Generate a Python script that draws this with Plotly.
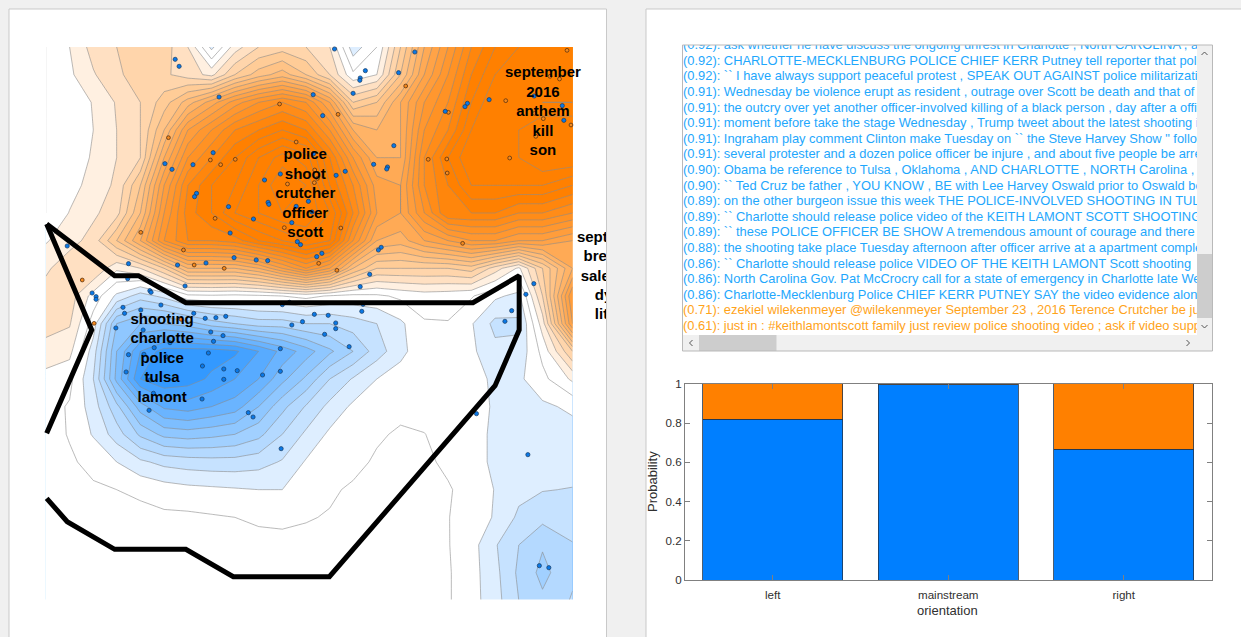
import plotly.graph_objects as go

W, H = 1241, 637
FONT = "Liberation Sans"

# ---------- map data (arbitrary map units) ----------
grid_x = [116,176,236,295,355,415,475,535,594,654,714,774,834,893,953,1013,1073,1133,1192,1252,1312,1372,1448]
grid_y = [141,224,307,390,473,556,639,722,805,888,971,1054,1137,1220,1303,1386,1469,1552,1635,1718,1801]
z_rows = [
 [0,1.0,2.4,3,4,3.5,2,-1.3,1.5,3,3.5,3,2,-1.6,0,4,8,11,14,16,17,18,18],
 [0,0.8,1.9,2.8,3.5,3.2,2.5,1.7,4,5.5,6.5,5,3,0.2,1,5,9,12,15,17,18,18,18],
 [0,0.5,1.05,2.1,3,4.5,6.5,8.5,10.5,12,13,12,9,4,5,8,11,13,16,18,18,17,17],
 [0,0.4,1,2,3,6,10,12,14,15,16,15,12,8,7,8,12,14,17,18,18,19,19],
 [0,0.5,1.1,2,3,8,12,14,16,18,19.5,18.5,15,11,8,8,13,16,18,18,18,19,19],
 [0,0.6,1.4,2.2,5,10,14,16,17,19,21,20,16,13,9.5,9,13,15,17,17,17,17,16],
 [0,1.05,1.8,2.6,6,11,14.5,16,18,19,20,20,18,14,10,9,12,15,15,15,14,14,13],
 [0.9,1.6,2.4,5,8,12,14,14,14.5,16,17,18,17,12,8,7.5,9,10,11,11,10,10,9],
 [1.8,2.7,3,1.2,2,4,7,7,7,8,10,12,10,6,4,4,4,4,4.5,2.5,0.8,4,8],
 [2.5,2.5,0.6,-1.2,-2.5,-1.7,-0.3,-0.2,-0.3,-0.2,0,0.3,-0.1,-0.3,-0.2,0.2,0.5,0.4,0.1,-0.8,-1.3,3,11],
 [2.5,2.1,-0.5,-5,-6,-6,-5.5,-4.5,-4,-3.5,-3.5,-3,-3,-2.5,-2,-1.2,-0.1,-0.05,-0.9,-2.3,-2.2,1.5,10],
 [1.5,1.3,-1.5,-6,-9,-10.5,-10.5,-10.5,-10.2,-9,-7.7,-6.5,-5.2,-4,-2.5,-1.3,-0.3,-0.3,-0.8,-1.7,-1.7,0.3,4],
 [0.7,0.3,-2,-6.3,-10,-10.9,-10.5,-9.8,-9,-8,-6.3,-4.8,-3,-1.9,-1,-0.5,-0.2,-0.2,-0.4,-1.3,-1.2,-0.3,1.2],
 [0.4,-0.1,-1.5,-3.7,-6.5,-8.2,-8.5,-8,-7.5,-6,-4.3,-2.9,-1.7,-0.8,-0.4,-0.2,-0.3,-0.3,-0.3,-1.2,-1.2,-1.2,-0.8],
 [0.3,-0.05,-1.1,-2.5,-4.2,-5.3,-5.5,-5.3,-5,-4.3,-3,-1.8,-0.8,-0.5,-0.1,0.1,0.02,-0.3,-0.6,-1.2,-1.3,-1.3,-1.4],
 [0.3,0.1,-0.2,-1,-1.8,-2.3,-2.5,-2.6,-2.6,-2.4,-1.9,-0.9,-0.5,-0.2,0.1,0.2,0.1,-0.1,-0.4,-1.3,-1.5,-1.5,-1.5],
 [0.3,0.2,0.1,0,-0.2,-0.5,-0.7,-0.8,-0.9,-1,-1,-0.4,-0.1,0.1,0.2,0.2,0.2,0.05,-0.2,-1.05,-1.7,-1.95,-2.05],
 [0.3,0.3,0.3,0.3,0.3,0.2,0.2,0.1,0,-0.1,-0.15,-0.05,0.05,0.1,0.2,0.2,0.2,0.03,-0.4,-1.1,-2.2,-2.7,-2.2],
 [0.3,0.3,0.3,0.3,0.3,0.3,0.3,0.3,0.2,0.2,0.2,0.2,0.2,0.2,0.2,0.2,0.2,0.05,-0.6,-1.9,-3,-3.9,-3.1],
 [0.3,0.3,0.3,0.3,0.3,0.3,0.3,0.3,0.2,0.2,0.2,0.2,0.2,0.2,0.2,0.2,0.2,0.1,-0.6,-1.7,-3.2,-4.3,-3.2],
 [0.3,0.3,0.3,0.3,0.3,0.3,0.3,0.3,0.2,0.2,0.2,0.2,0.2,0.2,0.2,0.2,0.2,0.1,-0.6,-1.6,-3,-3.8,-2.9],
]

blue_x = [846,1049,443,453,924,911,910,1008,893,792,554,1182,1176,1126,1237,1351,1422,1426,816,996,539,793,417,488,435,945,980,978,873,850,709,669,497,492,678,680,578,780,749,789,641,738,582,752,760,170,964,957,814,801,592,648,677,521,449,325,935,323,468,911,233,243,243,379,382,407,1350,1330,714,732,918,915,311,315,356,490,519,546,571,795,830,1294,
          1277,738,765,849,849,821,533,564,540,293,362,430,390,883,709,325,364,420,527,512,566,600,709,664,566,319,380,388,511,377,628,640,711,1205,1335,1364,1388]
blue_y = [147,156,178,199,212,234,241,218,280,284,291,310,320,334,299,288,317,361,347,437,458,461,491,494,508,493,501,507,514,526,522,540,580,590,607,613,620,604,619,636,657,668,699,725,734,738,742,750,760,770,773,780,782,789,795,791,823,836,858,860,879,890,898,872,877,915,851,883,914,907,913,934,922,940,930,940,955,953,949,943,946,932,
          964,975,965,969,986,1003,996,1007,1024,984,990,1028,1043,1040,1046,1064,1063,1070,1059,1098,1107,1112,1114,1125,1138,1116,1140,1180,1197,1231,1238,1251,1346,1241,1364,1697,1703]
orange_x = [1434,1391,1415,1026,1279,707,855,1134,1352,1374,1444,1355,426,749,532,558,595,1083,1130,1289,1131,796,803,795,727,544,356,719,862,464,1170,491,567,806,852,208,238,458]
orange_y = [151,229,237,258,302,312,343,337,340,356,375,409,413,426,480,494,478,478,477,474,519,510,535,548,552,655,697,683,684,750,730,795,805,790,811,840,970,958]

path1_x = [118,290,350,470,1196,1313,1313,1252,833,590,470,290,170,118]
path1_y = [672,827,827,908,908,827,990,1157,1730,1730,1648,1648,1565,1495]
path2_x = [118,232,118]
path2_y = [672,990,1300]

word_groups = [
    (772, [467,525,583,642,700], ["police","shoot","crutcher","officer","scott"]),
    (1373, [221,279,337,396,455], ["september","2016","anthem","kill","son"]),
    (410, [962,1019,1078,1136,1194], ["shooting","charlotte","police","tulsa","lamont"]),
    (1555, [715,773,831,889,947], ["september","breaking","salesman","dying","literal"]),
]

# ---------- sentence list ----------
sentences_blue = [
 "(0.92): ask whether he have discuss the ongoing unrest in Charlotte , North CAROLINA , and",
 "(0.92): CHARLOTTE-MECKLENBURG POLICE CHIEF KERR Putney tell reporter that police",
 "(0.92): `` I have always support peaceful protest , SPEAK OUT AGAINST police militarization",
 "(0.91): Wednesday be violence erupt as resident , outrage over Scott be death and that of",
 "(0.91): the outcry over yet another officer-involved killing of a black person , day after a officer",
 "(0.91): moment before take the stage Wednesday , Trump tweet about the latest shooting in",
 "(0.91): Ingraham play comment Clinton make Tuesday on `` the Steve Harvey Show \" follow",
 "(0.91): several protester and a dozen police officer be injure , and about five people be arrest",
 "(0.90): Obama be reference to Tulsa , Oklahoma , AND CHARLOTTE , NORTH Carolina , in",
 "(0.90): `` Ted Cruz be father , YOU KNOW , BE with Lee Harvey Oswald prior to Oswald be",
 "(0.89): on the other burgeon issue this week THE POLICE-INVOLVED SHOOTING IN TULSA",
 "(0.89): `` Charlotte should release police video of the KEITH LAMONT SCOTT SHOOTING",
 "(0.89): `` these POLICE OFFICER BE SHOW A tremendous amount of courage and there",
 "(0.88): the shooting take place Tuesday afternoon after officer arrive at a apartment complex",
 "(0.86): `` Charlotte should release police VIDEO OF THE KEITH LAMONT Scott shooting",
 "(0.86): North Carolina Gov. Pat McCrocry call for a state of emergency in Charlotte late Wednesday",
 "(0.86): Charlotte-Mecklenburg Police CHIEF KERR PUTNEY SAY the video evidence alone",
]
sentences_orange = [
 "(0.71): ezekiel wilekenmeyer @wilekenmeyer September 23 , 2016 Terence Crutcher be just",
 "(0.61): just in : #keithlamontscott family just review police shooting video ; ask if video support",
]

# ---------- bars ----------
orientation = ["left", "mainstream", "right"]
prob_blue = [0.82, 0.995, 0.667]
prob_orange = [0.18, 0.005, 0.333]
prob_ticks = [0, 0.2, 0.4, 0.6, 0.8, 1]

# ---------- helpers ----------
def dx(a, b): return [a / W, b / W]
def dy(top, bottom): return [1 - bottom / H, 1 - top / H]
def px(x): return x / W
def py(y): return 1 - y / H

# plotly's fill mode spreads the colorscale over the contour levels:
# the band centred on v sits at ((v - start) / size + 0.5) / n_levels.
START, END, STEP = -11, 24, 1
NLEV = (END - START) // STEP + 1
def nv(v): return ((v - START) / STEP + 0.5) / NLEV
colorscale = [
    [0, "#ffffff"], [nv(-10.7), "#ffffff"], [nv(-10.5), "#3399ff"], [nv(-2.5), "#c6e2ff"], [nv(-1.5), "#deeeff"],
    [nv(-0.5), "#ffffff"], [nv(0.5), "#ffffff"], [nv(1.5), "#fff0e1"], [nv(2.5), "#ffe0c2"], [nv(4), "#ffd09f"],
    [nv(9), "#ffa64d"], [nv(15.5), "#ff8000"], [1, "#ff8000"],
]

fig = go.Figure()

fig.add_trace(go.Contour(
    x=grid_x, y=grid_y, z=z_rows, xaxis="x", yaxis="y",
    autocontour=False, contours=dict(start=START, end=END, size=STEP, coloring="fill", showlines=True),
    colorscale=colorscale, showscale=False, line=dict(color="#8c8c8c", width=0.6, smoothing=0), hoverinfo="skip",
))
fig.add_trace(go.Scatter(x=orange_x, y=orange_y, mode="markers", xaxis="x", yaxis="y",
    marker=dict(size=3.8, color="#f58a1f", line=dict(color="#5a3210", width=0.8))))
fig.add_trace(go.Scatter(x=blue_x, y=blue_y, mode="markers", xaxis="x", yaxis="y",
    marker=dict(size=4.2, color="#0a78e6", line=dict(color="#173a60", width=0.7))))
for lx, ly in [(path1_x, path1_y), (path2_x, path2_y)]:
    fig.add_trace(go.Scatter(x=lx, y=ly, mode="lines", xaxis="x", yaxis="y",
        line=dict(color="#000000", width=5)))
for wx, wy, words in word_groups:
    fig.add_trace(go.Scatter(x=[wx] * len(words), y=wy, text=words, mode="text", xaxis="x", yaxis="y",
        textposition="middle center", cliponaxis=True,
        textfont=dict(family=FONT, size=15, color="#000000", weight="bold")))

rows_b = list(range(len(sentences_blue)))
rows_o = [len(sentences_blue) + i for i in range(len(sentences_orange))]
fig.add_trace(go.Scatter(x=[0] * len(rows_b), y=rows_b, text=sentences_blue, mode="text", xaxis="x2", yaxis="y2",
    textposition="middle right", cliponaxis=True, textfont=dict(family=FONT, size=12.9, color="#1ea7fd")))
fig.add_trace(go.Scatter(x=[0] * len(rows_o), y=rows_o, text=sentences_orange, mode="text", xaxis="x2", yaxis="y2",
    textposition="middle right", cliponaxis=True, textfont=dict(family=FONT, size=12.9, color="#ffa31a")))

bar_line = dict(color="#20364f", width=0.8)
fig.add_trace(go.Bar(x=orientation, y=prob_blue, width=0.8, xaxis="x3", yaxis="y3",
    marker=dict(color="#007fff", line=bar_line)))
fig.add_trace(go.Bar(x=orientation, y=prob_orange, width=0.8, xaxis="x3", yaxis="y3",
    marker=dict(color="#ff8000", line=bar_line)))

# ---------- chrome ----------
shapes = []
def rect(x0, y0, x1, y1, fill, line=None, layer="above", lw=1):
    shapes.append(dict(type="rect", xref="paper", yref="paper", x0=px(x0), x1=px(x1), y0=py(y1), y1=py(y0),
                       fillcolor=fill, line=dict(color=line or fill, width=lw if line else 0), layer=layer))
def chev(pts):
    path = "M " + " L ".join(f"{px(a)},{py(b)}" for a, b in pts)
    shapes.append(dict(type="path", xref="paper", yref="paper", path=path, line=dict(color="#555555", width=1)))

rect(9, 9, 606.5, 660, "#ffffff", "#c9c9c9", "below")
rect(646, 9, 1260, 660, "#ffffff", "#c9c9c9", "below")
# soften the faint fill seam on the contour's lower and left edges
rect(44.5, 47, 46.6, 224, "#ffffff")
rect(44.5, 599.6, 574, 601.5, "#ffffff")
rect(1197, 45, 1212, 351, "#f0f0f0")
rect(682, 335, 1212, 351, "#f0f0f0")
rect(1197, 254, 1212, 318, "#cdcdcd")
rect(699, 335, 776.5, 351, "#cdcdcd")
shapes.append(dict(type="rect", xref="paper", yref="paper", x0=px(682.5), x1=px(1212.5), y0=py(351), y1=py(45),
                   line=dict(color="#b9b9b9", width=1), fillcolor="rgba(0,0,0,0)", layer="above"))
chev([(1201.5, 55), (1204.5, 52), (1207.5, 55)])
chev([(1201.5, 325), (1204.5, 328), (1207.5, 325)])
chev([(692.5, 340), (689.5, 343), (692.5, 346)])
chev([(1186.5, 340), (1189.5, 343), (1186.5, 346)])

axis_off = dict(visible=False, showgrid=False, zeroline=False, fixedrange=True)
tickfont = dict(family=FONT, size=11.6, color="#303030")
titlefont = dict(family=FONT, size=13, color="#303030")

annotations = [
    dict(text="Probability", xref="paper", yref="paper", x=px(652), y=py(482), showarrow=False, textangle=-90,
         font=titlefont, xanchor="center", yanchor="middle"),
    dict(text="orientation", xref="paper", yref="paper", x=px(947.5), y=py(610), showarrow=False,
         font=titlefont, xanchor="center", yanchor="middle"),
]

fig.update_layout(
    width=W, height=H, autosize=False, margin=dict(l=0, r=0, t=0, b=0, pad=0),
    paper_bgcolor="#f0f0f0", plot_bgcolor="rgba(0,0,0,0)", showlegend=False, barmode="stack",
    font=dict(family=FONT), shapes=shapes, annotations=annotations, hovermode=False,
    xaxis=dict(domain=dx(9, 606), range=[9 * 2.529, 606 * 2.529], anchor="y", **axis_off),
    yaxis=dict(domain=dy(9, 637), range=[637 * 3, 9 * 3], anchor="x", **axis_off),
    xaxis2=dict(domain=dx(683, 1197), range=[0, 1], anchor="y2", **axis_off),
    yaxis2=dict(domain=dy(45, 335), range=[18.53, -0.064], anchor="x2", **axis_off),
    xaxis3=dict(domain=dx(685, 1211.5), range=[-0.5, 2.5], type="category", categoryorder="array", anchor="y3",
                categoryarray=orientation, ticks="inside", ticklen=5, tickcolor="#808080", tickwidth=1,
                showline=True, linecolor="#808080", linewidth=1, mirror="ticks", showgrid=False, zeroline=False,
                tickfont=tickfont, automargin=False, ticklabelstandoff=4),
    yaxis3=dict(domain=dy(383.7, 580.3), range=[0, 1], tickvals=prob_ticks, ticktext=["0", "0.2", "0.4", "0.6", "0.8", "1"],
                anchor="x3", ticks="inside", ticklen=5, tickcolor="#808080", tickwidth=1,
                showline=True, linecolor="#808080", linewidth=1, mirror="ticks", showgrid=False, zeroline=False,
                tickfont=tickfont, automargin=False),
)

fig.write_html("out.html", config=dict(displayModeBar=False),
               post_script="document.body.style.margin='0';document.documentElement.style.overflow='hidden';")
